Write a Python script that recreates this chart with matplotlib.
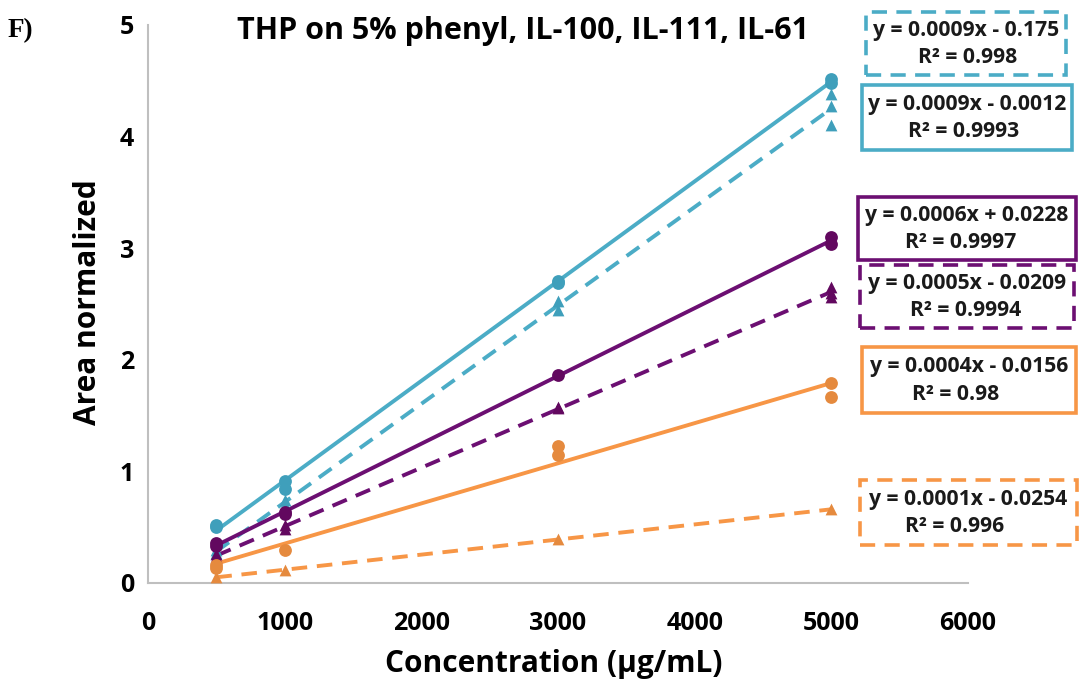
import numpy as np
import matplotlib
matplotlib.use("Agg")
import matplotlib.pyplot as plt
from matplotlib.patches import Rectangle

# Measured normalized areas (replicate injections) per column / calibration set
cyan_solid_x = [500, 500, 1000, 1000, 3000, 3000, 5000, 5000]
cyan_solid_y = [0.52, 0.50, 0.91, 0.84, 2.71, 2.69, 4.52, 4.48]

cyan_dash_x = [500, 500, 1000, 1000, 3000, 3000, 5000, 5000, 5000]
cyan_dash_y = [0.30, 0.27, 0.74, 0.70, 2.53, 2.45, 4.38, 4.27, 4.10]

purple_solid_x = [500, 500, 1000, 1000, 3000, 5000, 5000]
purple_solid_y = [0.36, 0.33, 0.64, 0.62, 1.86, 3.10, 3.04]

purple_dash_x = [500, 500, 1000, 1000, 3000, 3000, 5000, 5000, 5000]
purple_dash_y = [0.26, 0.23, 0.52, 0.48, 1.58, 1.57, 2.65, 2.60, 2.56]

orange_solid_x = [500, 500, 1000, 3000, 3000, 5000, 5000]
orange_solid_y = [0.16, 0.13, 0.30, 1.23, 1.15, 1.79, 1.67]

orange_dash_x = [500, 1000, 3000, 5000]
orange_dash_y = [0.05, 0.12, 0.39, 0.66]

equations = [
    "y = 0.0009x - 0.175", "y = 0.0009x - 0.0012", "y = 0.0006x + 0.0228",
    "y = 0.0005x - 0.0209", "y = 0.0004x - 0.0156", "y = 0.0001x - 0.0254",
]
r_squared = ["R² = 0.998", "R² = 0.9993", "R² = 0.9997",
             "R² = 0.9994", "R² = 0.98", "R² = 0.996"]

x_ticks = [0, 1000, 2000, 3000, 4000, 5000, 6000]
y_ticks = [0, 1, 2, 3, 4, 5]

CYAN, CYAN_M = "#4bacc6", "#3f9fbb"
PURPLE, PURPLE_M = "#6c0f72", "#62085f"
ORANGE, ORANGE_M = "#f79646", "#e58a3e"

plt.rcParams["font.family"] = ["Open Sans", "DejaVu Sans"]

W, H = 1079, 689
fig = plt.figure(figsize=(W / 100, H / 100), dpi=100)
ax = fig.add_axes([148 / W, 1 - 583 / H, (968 - 148) / W, (583 - 25) / H])

series = [
    (cyan_solid_x, cyan_solid_y, CYAN, CYAN_M, "o", "-"),
    (cyan_dash_x, cyan_dash_y, CYAN, CYAN_M, "^", "--"),
    (purple_solid_x, purple_solid_y, PURPLE, PURPLE_M, "o", "-"),
    (purple_dash_x, purple_dash_y, PURPLE, PURPLE_M, "^", "--"),
    (orange_solid_x, orange_solid_y, ORANGE, ORANGE_M, "o", "-"),
    (orange_dash_x, orange_dash_y, ORANGE, ORANGE_M, "^", "--"),
]

for xs, ys, lc, mc, mk, ls in series:
    xs = np.asarray(xs, float)
    ys = np.asarray(ys, float)
    slope, icpt = np.polyfit(xs, ys, 1)
    xl = np.array([xs.min(), xs.max()])
    line, = ax.plot(xl, slope * xl + icpt, color=lc, lw=2.8, ls=ls, zorder=2,
                    solid_capstyle="butt")
    if ls == "--":
        line.set_dashes((4.0, 2.5))
    ax.scatter(xs, ys, marker=mk, s=85 if mk == "o" else 72, color=mc,
               zorder=3, linewidths=0)

ax.set_xlim(0, 6000)
ax.set_ylim(0, 5)
ax.set_xticks(x_ticks)
ax.set_yticks(y_ticks)
ax.tick_params(length=0, labelsize=18)
ax.tick_params(axis="x", pad=20)
ax.tick_params(axis="y", pad=10)
for lab in ax.get_xticklabels() + ax.get_yticklabels():
    lab.set_fontweight("bold")
for side in ("top", "right"):
    ax.spines[side].set_visible(False)
for side in ("left", "bottom"):
    ax.spines[side].set_color("#bfbfbf")
    ax.spines[side].set_linewidth(1.5)

ax.set_xlabel("Concentration (μg/mL)", fontsize=21.5, fontweight="bold")
ax.set_ylabel("Area normalized", fontsize=21.5, fontweight="bold")
ax.xaxis.set_label_coords(554 / W, 1 - 664 / H, transform=fig.transFigure)
ax.yaxis.set_label_coords(88 / W, 1 - 302 / H, transform=fig.transFigure)
ax.xaxis.label.set_va("center")
ax.yaxis.label.set_va("center")

fig.text(523 / W, 1 - 31 / H, "THP on 5% phenyl, IL-100, IL-111, IL-61",
         ha="center", va="center", fontsize=22, fontweight="bold")
fig.text(8 / W, 1 - 31 / H, "F)", ha="left", va="center", fontsize=19.5,
         fontweight="bold", family=["Liberation Serif", "DejaVu Serif"])

# Trendline equation boxes (pixel rectangles: left, top, right, bottom)
boxes = [
    (866, 12, 1066, 75, CYAN, "--", 918),
    (862, 85, 1072, 150, CYAN, "-", 908),
    (858, 197, 1076, 260, PURPLE, "-", 905),
    (860, 265, 1074, 328, PURPLE, "--", 910),
    (862, 347, 1076, 413, ORANGE, "-", 912),
    (860, 480, 1077, 545, ORANGE, "--", 905),
]
for (l, t, r, b, col, ls, r2x), eq, r2 in zip(boxes, equations, r_squared):
    rect = Rectangle((l / W, 1 - b / H), (r - l) / W, (b - t) / H,
                     transform=fig.transFigure, fill=False, edgecolor=col,
                     lw=2.6, ls=ls, clip_on=False)
    if ls == "--":
        rect.set_linestyle((0, (4.2, 2.6)))
    fig.add_artist(rect)
    fig.text((l + r) / 2 / W, 1 - (t + 0.30 * (b - t)) / H, eq, ha="center",
             va="center", fontsize=15.2, fontweight="bold", color="#1a1a1a")
    fig.text(r2x / W, 1 - (t + 0.72 * (b - t)) / H, r2, ha="left",
             va="center", fontsize=15.2, fontweight="bold", color="#1a1a1a")

fig.savefig("out.png", dpi=100)
